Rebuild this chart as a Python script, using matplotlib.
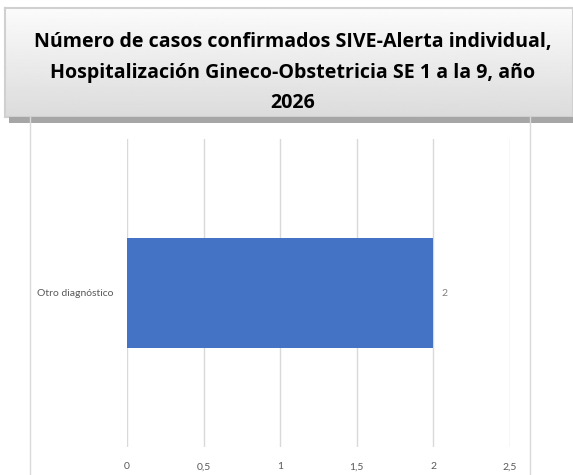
import matplotlib
matplotlib.use("Agg")
import matplotlib.pyplot as plt
import numpy as np
from matplotlib.patches import Rectangle

categories = ["Otro diagnóstico"]
values = [2]
xticks = [0, 0.5, 1, 1.5, 2, 2.5]
xticklabels = ["0", "0,5", "1", "1,5", "2", "2,5"]
title_lines = ["Número de casos confirmados SIVE-Alerta individual,",
               "Hospitalización Gineco-Obstetricia SE 1 a la 9, año",
               "2026"]

W, H = 573, 475
fig = plt.figure(figsize=(W / 100, H / 100), dpi=100)
fig.patch.set_facecolor("white")

def fx(px):
    return px / W

def fy(py):
    return 1 - py / H

# chart area border lines
for xp in (30, 530):
    fig.add_artist(plt.Line2D([fx(xp), fx(xp)], [fy(117), fy(475)], color="#d9d9d9", lw=1.0))

# main axes
ax = fig.add_axes([fx(127), fy(447), fx(510) - fx(127), fy(139) - fy(447)])
y = np.arange(len(categories))
bars = ax.barh(y, values, height=0.357, color="#4472C4", zorder=3)
ax.set_xlim(0, 2.5)
ax.set_ylim(-0.5, 0.5)
ax.set_xticks(xticks)
ax.set_xticklabels(xticklabels, fontsize=7.5, color="#595959", family="Lato")
ax.set_yticks(y)
ax.set_yticklabels(categories, fontsize=7.5, color="#595959", family="Lato")
ax.tick_params(axis="both", length=0)
ax.tick_params(axis="x", pad=11)
ax.tick_params(axis="y", pad=10)
ax.grid(axis="x", color="#d9d9d9", lw=1.0, zorder=0)
for s in ax.spines.values():
    s.set_visible(False)
for b, v in zip(bars, values):
    ax.text(v + 0.055, b.get_y() + b.get_height() / 2, str(v), va="center", ha="left",
            fontsize=7.5, color="#7f7f7f", family="Lato")

# title box shadow
fig.add_artist(Rectangle((fx(9), fy(123)), fx(573) - fx(9), fy(117) - fy(123),
                         transform=fig.transFigure, color="#a6a6a6", lw=0))
# title box gradient
tax = fig.add_axes([fx(5), fy(117), fx(573) - fx(5), fy(8) - fy(117)])
grad = np.linspace(0.985, 0.86, 100).reshape(-1, 1)
tax.imshow(grad, aspect="auto", cmap="gray", vmin=0, vmax=1, extent=[0, 1, 0, 1])
tax.set_xticks([])
tax.set_yticks([])
for s in tax.spines.values():
    s.set_color("#d0d0d0")
    s.set_linewidth(1.5)

for line, yb in zip(title_lines, (46.5, 78, 108)):
    fig.text(fx(293), fy(yb), line, ha="center", va="baseline", fontsize=14.1,
             fontweight="bold", family="Open Sans", color="black")

fig.savefig("out.png", dpi=100)
